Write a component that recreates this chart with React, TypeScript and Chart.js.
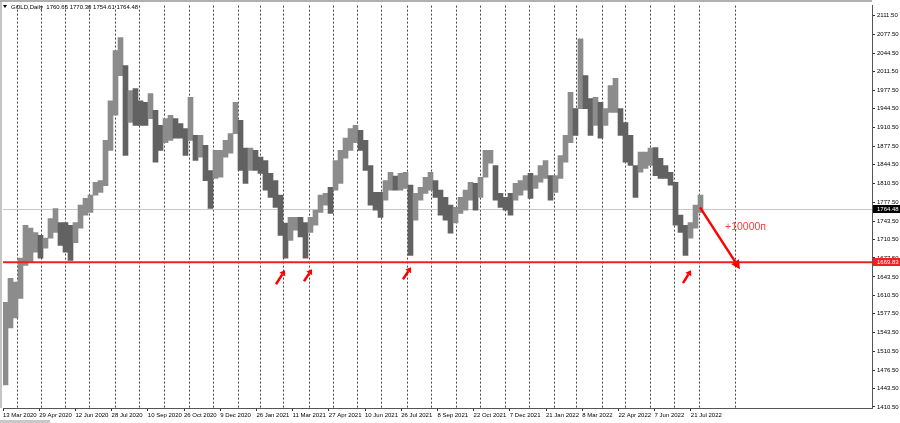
import React, { useEffect, useRef } from 'react';
import { Chart, registerables } from 'chart.js';

Chart.register(...registerables);

// Bucketed daily range of GOLD (each bucket ~4-5 trading days): high / low prices
const highs = [
  1598, 1641, 1634, 1677, 1736, 1731, 1723, 1718, 1713, 1748, 1766, 1741, 1741, 1736, 1741, 1772, 1784, 1790, 1813, 1816,
  1888, 1959, 2049, 2072, 2022, 1977, 1981, 1959, 1956, 1972, 1942, 1915, 1927, 1933, 1927, 1918, 1909, 1965, 1897, 1897,
  1879, 1834, 1870, 1870, 1888, 1900, 1956, 1924, 1874, 1874, 1870, 1858, 1852, 1829, 1816, 1790, 1740, 1750, 1750, 1750,
  1741, 1750, 1763, 1790, 1793, 1804, 1852, 1870, 1892, 1909, 1915, 1906, 1888, 1843, 1795, 1795, 1816, 1831, 1824, 1829,
  1831, 1808, 1793, 1804, 1822, 1831, 1816, 1799, 1786, 1772, 1768, 1786, 1799, 1813, 1811, 1822, 1870, 1870, 1843, 1793,
  1786, 1793, 1811, 1816, 1825, 1829, 1825, 1843, 1852, 1825, 1825, 1861, 1897, 1974, 1945, 2070, 2004, 1963, 1965, 1956,
  1945, 1986, 1999, 1945, 1920, 1897, 1843, 1867, 1867, 1874, 1875, 1856, 1843, 1831, 1813, 1754, 1736, 1741, 1772, 1790,
];
const lows = [
  1450, 1552, 1570, 1605, 1664, 1670, 1688, 1677, 1695, 1713, 1723, 1700, 1688, 1673, 1705, 1731, 1754, 1759, 1790, 1795,
  1807, 1870, 1933, 2004, 1861, 1920, 1915, 1915, 1915, 1927, 1849, 1870, 1884, 1888, 1892, 1892, 1861, 1888, 1852, 1858,
  1816, 1766, 1820, 1822, 1858, 1865, 1900, 1834, 1811, 1834, 1834, 1829, 1799, 1786, 1768, 1718, 1677, 1709, 1727, 1715,
  1677, 1723, 1736, 1759, 1772, 1757, 1799, 1811, 1856, 1870, 1884, 1870, 1834, 1772, 1763, 1750, 1781, 1799, 1799, 1799,
  1802, 1682, 1745, 1781, 1793, 1799, 1786, 1754, 1745, 1722, 1740, 1757, 1763, 1781, 1763, 1786, 1822, 1847, 1781, 1768,
  1763, 1754, 1781, 1790, 1799, 1784, 1802, 1813, 1820, 1781, 1795, 1820, 1849, 1884, 1897, 1945, 1945, 1897, 1915, 1892,
  1915, 1938, 1938, 1897, 1849, 1843, 1786, 1831, 1838, 1843, 1825, 1820, 1820, 1808, 1736, 1723, 1682, 1713, 1731, 1759,
];

const priceTicks = [
  2111.5, 2077.5, 2044.5, 2011.5, 1977.5, 1944.5, 1910.5, 1877.5, 1844.5, 1810.5, 1777.5,
  1743.5, 1710.5, 1677.5, 1643.5, 1610.5, 1577.5, 1543.5, 1510.5, 1476.5, 1443.5, 1410.5,
];

const dateLabels = [
  '13 Mar 2020', '29 Apr 2020', '12 Jun 2020', '28 Jul 2020', '10 Sep 2020', '26 Oct 2020', '9 Dec 2020',
  '26 Jan 2021', '11 Mar 2021', '27 Apr 2021', '10 Jun 2021', '26 Jul 2021', '8 Sep 2021', '22 Oct 2021',
  '7 Dec 2021', '21 Jan 2022', '8 Mar 2022', '22 Apr 2022', '7 Jun 2022', '21 Jul 2022',
];
const datePositions = [
  -0.5, 6.74, 13.98, 21.22, 28.46, 35.7, 42.94, 50.18, 57.42, 64.66, 71.9, 79.14, 86.38, 93.62,
  100.86, 108.1, 115.34, 122.58, 129.82, 137.06,
];

// Month period separators (Apr 2020 ... Sep 2022), in bucket units
const monthSeparators = [
  2.3, 7.1, 11.9, 16.7, 21.9, 26.7, 31.7, 36.7, 41.5, 46.5, 50.9, 55.5, 60.7, 65.5, 70.3,
  75.1, 80.3, 85.1, 90.1, 94.9, 99.9, 104.7, 109.7, 114.1, 119.3, 123.9, 128.9, 133.7, 138.7, 145.9,
];

const symbolTitle = 'GOLD,Daily';
const lastOHLC = [1760.65, 1770.3, 1754.61, 1764.48];
const bidPrice = 1764.48;
const levelPrice = 1669.83;

// small up arrows: [x1, price1, x2, price2]
const smallArrows = [
  [54.1, 1630.4, 55.9, 1655.5],
  [59.7, 1635.8, 61.3, 1657.3],
  [79.5, 1639.4, 81.1, 1660.8],
  [135.5, 1632.2, 137.1, 1655.5],
];
const bigArrow = [138.9, 1768.1, 146.9, 1657.2];
const profitText = '+10000п';
const profitPos = [143.9, 1732.4];

const X_MIN = -0.5;
const X_MAX = 173.3;
const Y_MIN = 1408.7;
const Y_MAX = 2129.4;

const FONT = 'Liberation Sans, Arial, sans-serif';

function drawArrow(ctx: CanvasRenderingContext2D, x1: number, y1: number, x2: number, y2: number, lw: number, head: number, hw: number) {
  const ang = Math.atan2(y2 - y1, x2 - x1);
  const bx = x2 - head * Math.cos(ang);
  const by = y2 - head * Math.sin(ang);
  ctx.save();
  ctx.strokeStyle = '#ff0000';
  ctx.fillStyle = '#ff0000';
  ctx.lineWidth = lw;
  ctx.lineCap = 'butt';
  ctx.beginPath();
  ctx.moveTo(x1, y1);
  ctx.lineTo(bx, by);
  ctx.stroke();
  ctx.beginPath();
  ctx.moveTo(x2, y2);
  ctx.lineTo(bx + hw * Math.sin(ang), by - hw * Math.cos(ang));
  ctx.lineTo(bx - hw * Math.sin(ang), by + hw * Math.cos(ang));
  ctx.closePath();
  ctx.fill();
  ctx.restore();
}

const overlayPlugin = {
  id: 'mtOverlay',
  beforeDatasetsDraw(chart: any) {
    const { ctx, chartArea, scales } = chart;
    const xs = scales.x;
    const ys = scales.y;
    ctx.save();
    ctx.strokeStyle = '#444';
    ctx.lineWidth = 1;
    ctx.setLineDash([2, 2]);
    monthSeparators.forEach((v) => {
      const px = Math.round(xs.getPixelForValue(v)) + 0.5;
      ctx.beginPath();
      ctx.moveTo(px, chartArea.top);
      ctx.lineTo(px, chartArea.bottom);
      ctx.stroke();
    });
    ctx.setLineDash([]);
    const by = Math.round(ys.getPixelForValue(bidPrice)) + 0.5;
    ctx.strokeStyle = '#c8c8c8';
    ctx.beginPath();
    ctx.moveTo(chartArea.left, by);
    ctx.lineTo(chartArea.right, by);
    ctx.stroke();
    ctx.restore();
  },
  afterDatasetsDraw(chart: any) {
    const { ctx, chartArea, scales } = chart;
    const xs = scales.x;
    const ys = scales.y;
    ctx.save();
    const ly = ys.getPixelForValue(levelPrice);
    ctx.strokeStyle = '#f02020';
    ctx.lineWidth = 2;
    ctx.beginPath();
    ctx.moveTo(chartArea.left, ly);
    ctx.lineTo(chartArea.right, ly);
    ctx.stroke();
    smallArrows.forEach((a) => {
      drawArrow(ctx, xs.getPixelForValue(a[0]), ys.getPixelForValue(a[1]), xs.getPixelForValue(a[2]), ys.getPixelForValue(a[3]), 2.5, 5, 3.5);
    });
    drawArrow(ctx, xs.getPixelForValue(bigArrow[0]), ys.getPixelForValue(bigArrow[1]), xs.getPixelForValue(bigArrow[2]), ys.getPixelForValue(bigArrow[3]), 2.5, 9, 4.5);
    ctx.fillStyle = '#ff3b3b';
    ctx.font = '10.5px ' + FONT;
    ctx.textBaseline = 'middle';
    ctx.textAlign = 'left';
    ctx.fillText(profitText, xs.getPixelForValue(profitPos[0]), ys.getPixelForValue(profitPos[1]));
    ctx.restore();
  },
  afterDraw(chart: any) {
    const { ctx, chartArea, scales, width, height } = chart;
    const ys = scales.y;
    ctx.save();
    ctx.fillStyle = '#c4c4c4';
    ctx.fillRect(0, 0, 2, chartArea.bottom);
    ctx.fillStyle = '#b0b0b0';
    ctx.fillRect(0, 0, chartArea.right, 2);
    ctx.fillStyle = '#c8c8c8';
    ctx.fillRect(0, height - 3, 50, 3);
    const boxes: [number, string][] = [[bidPrice, '#000000'], [levelPrice, '#f02020']];
    ctx.font = '6px ' + FONT;
    ctx.textBaseline = 'middle';
    ctx.textAlign = 'left';
    boxes.forEach(([p, col]) => {
      const y = Math.round(ys.getPixelForValue(p));
      ctx.fillStyle = col;
      ctx.fillRect(chartArea.right + 1, y - 4, width - chartArea.right - 1, 8);
      ctx.fillStyle = '#ffffff';
      ctx.fillText(p.toFixed(2), chartArea.right + 5, y + 0.5);
    });
    ctx.fillStyle = '#000';
    ctx.beginPath();
    ctx.moveTo(3, 5);
    ctx.lineTo(7, 5);
    ctx.lineTo(5, 8);
    ctx.closePath();
    ctx.fill();
    ctx.font = '6px ' + FONT;
    ctx.textBaseline = 'middle';
    ctx.fillText(symbolTitle + '  ' + lastOHLC.map((v) => v.toFixed(2)).join(' '), 11, 7);
    ctx.restore();
  },
};

export default function App() {
  const ref = useRef<HTMLCanvasElement | null>(null);
  useEffect(() => {
    document.body.style.margin = '0';
    const canvas = ref.current;
    if (!canvas) return;
    const mids = highs.map((h, i) => (h + lows[i]) / 2);
    const colors = mids.map((m, i) => (i === 0 || m >= mids[i - 1] ? '#8c8c8c' : '#626262'));
    const chart = new Chart(canvas, {
      type: 'bar',
      data: {
        datasets: [
          {
            data: highs.map((h, i) => ({ x: i, y: [lows[i], h] })) as any,
            backgroundColor: colors,
            borderWidth: 0,
            barPercentage: 1,
            categoryPercentage: 1,
          },
        ],
      },
      options: {
        animation: false,
        responsive: true,
        maintainAspectRatio: false,
        layout: { padding: { left: 3, top: 5, right: 0, bottom: 0 } },
        plugins: { legend: { display: false }, tooltip: { enabled: false } },
        scales: {
          x: {
            type: 'linear',
            position: 'bottom',
            offset: false,
            min: X_MIN,
            max: X_MAX,
            afterBuildTicks: (s: any) => {
              s.ticks = datePositions.map((v) => ({ value: v }));
            },
            afterFit: (s: any) => {
              s.height = 15;
            },
            ticks: {
              autoSkip: false,
              maxRotation: 0,
              minRotation: 0,
              align: 'start',
              padding: 1,
              color: '#000',
              font: { family: FONT, size: 6 },
              callback: (_v: any, i: number) => dateLabels[i],
            },
            grid: { offset: false, drawOnChartArea: false, drawTicks: true, tickLength: 3, color: '#333' },
            border: { display: true, color: '#555' },
          },
          y: {
            type: 'linear',
            position: 'right',
            min: Y_MIN,
            max: Y_MAX,
            afterBuildTicks: (s: any) => {
              s.ticks = priceTicks.map((v) => ({ value: v }));
            },
            afterFit: (s: any) => {
              s.width = 28;
            },
            ticks: {
              autoSkip: false,
              padding: 2,
              color: '#000',
              font: { family: FONT, size: 6 },
              callback: (v: any) => Number(v).toFixed(2),
            },
            grid: { drawOnChartArea: false, drawTicks: true, tickLength: 3, color: '#333' },
            border: { display: true, color: '#555' },
          },
        },
      },
      plugins: [overlayPlugin],
    });
    return () => chart.destroy();
  }, []);
  return (
    <div style={{ width: 900, height: 423, position: 'relative', background: '#fff' }}>
      <canvas ref={ref} />
    </div>
  );
}
